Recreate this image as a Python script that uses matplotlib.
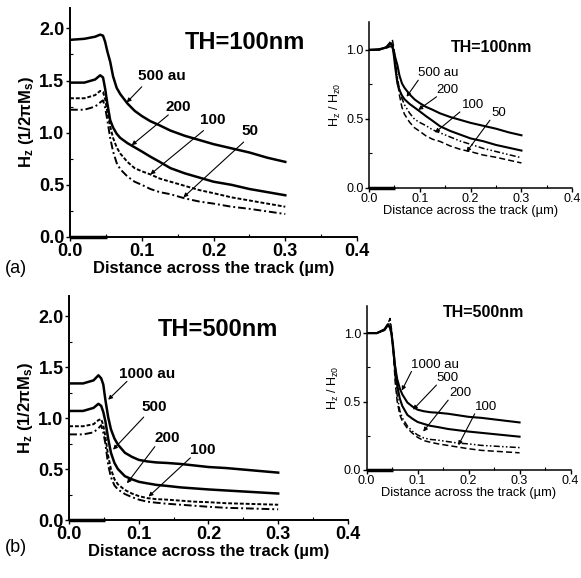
import numpy as np
import matplotlib
matplotlib.use("Agg")
import matplotlib.pyplot as plt
from matplotlib.ticker import MultipleLocator, FormatStrFormatter

plt.rcParams["font.family"] = ["Liberation Sans", "DejaVu Sans"]
plt.rcParams["mathtext.fontset"] = "custom"
plt.rcParams["mathtext.rm"] = "Liberation Sans"
plt.rcParams["mathtext.bf"] = "Liberation Sans:bold"
plt.rcParams["mathtext.it"] = "Liberation Sans:italic"

# ── data ─────────────────────────────────────────────────────────────────────
x_um = [0.0, 0.02, 0.035, 0.042, 0.046, 0.049, 0.052, 0.056, 0.06, 0.065,
        0.07, 0.08, 0.09, 0.1, 0.112, 0.125, 0.14, 0.16, 0.18, 0.2,
        0.225, 0.25, 0.275, 0.3]

# (a) TH = 100 nm, Hz in units of 1/2πMs
labels_a = ["500 au", "200", "100", "50"]
hz_a_500 = [1.89, 1.90, 1.92, 1.94, 1.93, 1.87, 1.78, 1.68, 1.54, 1.43,
            1.37, 1.28, 1.21, 1.16, 1.11, 1.07, 1.02, 0.97, 0.93, 0.89,
            0.85, 0.81, 0.76, 0.72]
hz_a_200 = [1.48, 1.48, 1.51, 1.55, 1.53, 1.42, 1.28, 1.12, 1.05, 0.99,
            0.95, 0.90, 0.86, 0.82, 0.77, 0.72, 0.66, 0.61, 0.57, 0.53,
            0.50, 0.46, 0.43, 0.40]
hz_a_100 = [1.33, 1.33, 1.36, 1.40, 1.39, 1.32, 1.20, 1.06, 0.95, 0.86,
            0.80, 0.72, 0.66, 0.63, 0.60, 0.56, 0.53, 0.49, 0.45, 0.42,
            0.38, 0.35, 0.32, 0.29]
hz_a_50 = [1.22, 1.22, 1.25, 1.29, 1.31, 1.24, 1.12, 0.95, 0.82, 0.71,
           0.65, 0.58, 0.53, 0.50, 0.46, 0.43, 0.41, 0.37, 0.34, 0.32,
           0.29, 0.27, 0.245, 0.22]

# (b) TH = 500 nm
labels_b = ["1000 au", "500", "200", "100"]
hz_b_1000 = [1.34, 1.34, 1.37, 1.42, 1.39, 1.33, 1.18, 1.01, 0.89, 0.80,
             0.74, 0.66, 0.62, 0.59, 0.575, 0.565, 0.56, 0.55, 0.535, 0.52,
             0.51, 0.495, 0.48, 0.465]
hz_b_500 = [1.07, 1.07, 1.10, 1.14, 1.12, 1.06, 0.97, 0.80, 0.66, 0.56,
            0.50, 0.43, 0.40, 0.375, 0.36, 0.345, 0.335, 0.32, 0.31, 0.30,
            0.29, 0.28, 0.27, 0.26]
hz_b_200 = [0.92, 0.92, 0.94, 0.98, 0.99, 0.93, 0.82, 0.63, 0.50, 0.40,
            0.35, 0.295, 0.26, 0.235, 0.215, 0.205, 0.20, 0.19, 0.18, 0.175,
            0.165, 0.16, 0.155, 0.15]
hz_b_100 = [0.84, 0.84, 0.86, 0.90, 0.93, 0.86, 0.75, 0.54, 0.42, 0.34,
            0.30, 0.255, 0.225, 0.20, 0.18, 0.17, 0.16, 0.15, 0.14, 0.13,
            0.12, 0.115, 0.11, 0.105]

# head/track marker drawn on the x axis
track_x = [0.0, 0.052]
track_y = [0.0, 0.0]

# ── styles ───────────────────────────────────────────────────────────────────
styles_left = ["-", "-", (0, (2, 1)), (0, (4, 1.5, 1, 1.5))]
styles_right = ["-", "-", (0, (4, 1.5, 1, 1.5, 1, 1.5)), (0, (4, 2))]


def setup_axes(ax, ymax, big):
    ax.set_xlim(0, 0.4)
    ax.set_ylim(0, ymax)
    ax.spines["top"].set_visible(False)
    ax.spines["right"].set_visible(False)
    ax.spines["left"].set_linewidth(1.4 if big else 1.1)
    ax.spines["bottom"].set_linewidth(1.4 if big else 1.1)
    ax.xaxis.set_major_locator(MultipleLocator(0.1))
    ax.xaxis.set_minor_locator(MultipleLocator(0.05))
    ax.yaxis.set_major_locator(MultipleLocator(0.5))
    ax.yaxis.set_minor_locator(MultipleLocator(0.25))
    ax.xaxis.set_major_formatter(FormatStrFormatter("%.1f"))
    ax.yaxis.set_major_formatter(FormatStrFormatter("%.1f"))
    fs = 13 if big else 9
    ax.tick_params(which="major", direction="out", length=3, width=1,
                   labelsize=fs, pad=1)
    ax.tick_params(which="minor", direction="in", length=2, width=0.8)
    for lab in ax.get_xticklabels() + ax.get_yticklabels():
        lab.set_fontweight("bold" if big else "normal")
    ax.plot(track_x, track_y, color="black", lw=2.5, clip_on=False,
            solid_capstyle="butt")


def add_labels(ax, notes, fs, weight):
    for text, txy, a0, a1 in notes:
        ax.text(txy[0], txy[1], text, ha="left", va="center",
                fontsize=fs, fontweight=weight)
        ax.annotate("", xy=a1, xytext=a0,
                    arrowprops=dict(arrowstyle="-|>", lw=0.8, color="black",
                                    mutation_scale=6, shrinkA=0, shrinkB=0))


fig = plt.figure(figsize=(5.81, 5.78), dpi=100)

ax_al = fig.add_axes([0.1205, 0.590, 0.494, 0.397])
ax_ar = fig.add_axes([0.635, 0.675, 0.350, 0.2865])
ax_bl = fig.add_axes([0.119, 0.1003, 0.4797, 0.388])
ax_br = fig.add_axes([0.631, 0.187, 0.351, 0.284])

curves_a = [hz_a_500, hz_a_200, hz_a_100, hz_a_50]
curves_b = [hz_b_1000, hz_b_500, hz_b_200, hz_b_100]

for ax_l, ax_r, curves, labels in [(ax_al, ax_ar, curves_a, labels_a),
                                   (ax_bl, ax_br, curves_b, labels_b)]:
    for hz, ls_l, ls_r, lab in zip(curves, styles_left, styles_right, labels):
        hz = np.asarray(hz)
        ax_l.plot(x_um, hz, color="black", ls=ls_l,
                  lw=1.8 if ls_l == "-" else 1.4)
        # right panels: field normalised to its value at the track centre
        ax_r.plot(x_um, hz / hz[0], color="black", ls=ls_r,
                  lw=1.5 if ls_r == "-" else 1.1)
    setup_axes(ax_l, 2.2, True)
    setup_axes(ax_r, 1.2, False)
    ax_l.set_xlabel("Distance across the track (\u00b5m)", fontsize=12,
                    fontweight="bold", labelpad=1)
    ax_l.set_ylabel("H$_\\mathbf{z}$ (1/2\u03c0M$_\\mathbf{s}$)", fontsize=12,
                    fontweight="bold", labelpad=2)
    ax_r.set_xlabel("Distance across the track (\u00b5m)", fontsize=9.3,
                    labelpad=0)
    ax_r.set_ylabel(r"H$_\mathrm{z}$ / H$_\mathrm{z0}$", fontsize=9,
                    labelpad=2)

ax_al.text(0.244, 1.86, "TH=100nm", ha="center", va="center",
           fontsize=17, fontweight="bold")
ax_ar.text(0.242, 1.02, "TH=100nm", ha="center", va="center",
           fontsize=11.5, fontweight="bold")
ax_bl.text(0.213, 1.87, "TH=500nm", ha="center", va="center",
           fontsize=17, fontweight="bold")
ax_br.text(0.229, 1.15, "TH=500nm", ha="center", va="center",
           fontsize=11.5, fontweight="bold")

add_labels(ax_al, [
    ("500 au", (0.095, 1.54), (0.100, 1.44), (0.079, 1.29)),
    ("200", (0.133, 1.25), (0.137, 1.17), (0.086, 0.88)),
    ("100", (0.181, 1.12), (0.186, 1.02), (0.112, 0.60)),
    ("50", (0.239, 1.02), (0.242, 0.91), (0.158, 0.38)),
], 11, "bold")
add_labels(ax_ar, [
    ("500 au", (0.096, 0.83), (0.097, 0.78), (0.074, 0.66)),
    ("200", (0.133, 0.71), (0.133, 0.66), (0.097, 0.565)),
    ("100", (0.182, 0.60), (0.179, 0.55), (0.130, 0.40)),
    ("50", (0.241, 0.545), (0.238, 0.49), (0.192, 0.26)),
], 9.5, "normal")
add_labels(ax_bl, [
    ("1000 au", (0.071, 1.43), (0.083, 1.36), (0.056, 1.18)),
    ("500", (0.104, 1.11), (0.107, 1.01), (0.063, 0.69)),
    ("200", (0.123, 0.80), (0.123, 0.72), (0.083, 0.36)),
    ("100", (0.174, 0.69), (0.174, 0.61), (0.114, 0.23)),
], 11, "bold")
add_labels(ax_br, [
    ("1000 au", (0.088, 0.766), (0.088, 0.72), (0.069, 0.58)),
    ("500", (0.137, 0.67), (0.137, 0.62), (0.091, 0.44)),
    ("200", (0.163, 0.56), (0.160, 0.51), (0.111, 0.28)),
    ("100", (0.212, 0.46), (0.212, 0.41), (0.180, 0.18)),
], 9.5, "normal")

fig.text(0.009, 0.535, "(a)", fontsize=13, va="center")
fig.text(0.009, 0.052, "(b)", fontsize=13, va="center")

fig.savefig("out.png", dpi=100)
